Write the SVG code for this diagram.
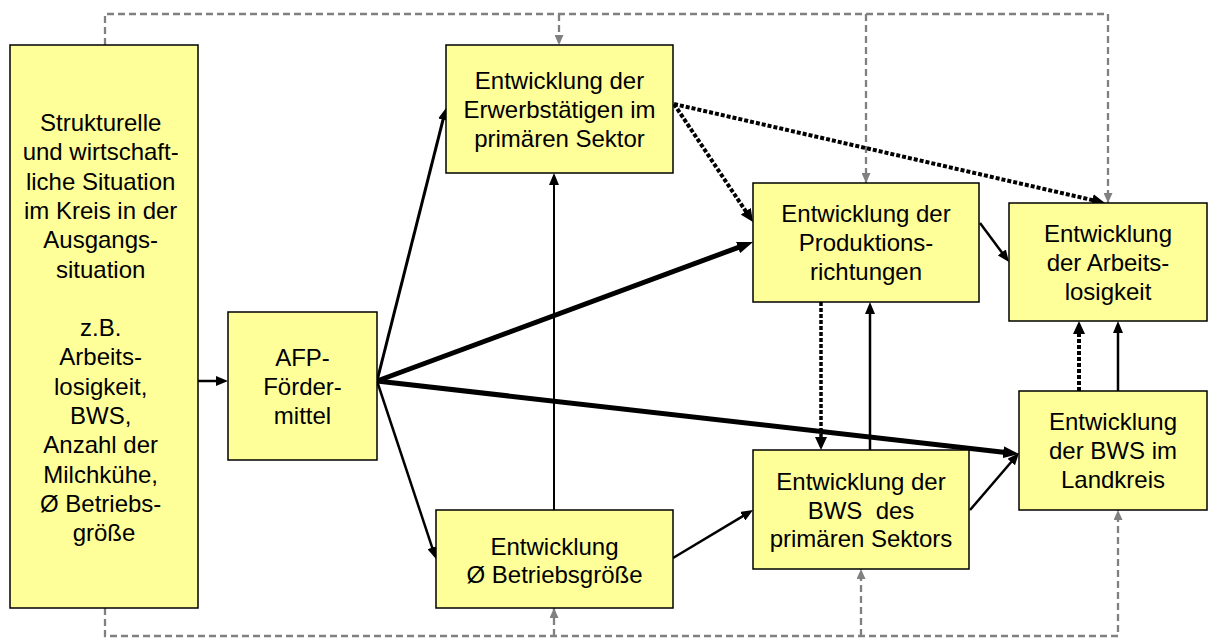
<svg xmlns="http://www.w3.org/2000/svg" width="1209" height="639" viewBox="0 0 1209 639">
<style>
.box{fill:#FFFF99;stroke:#000;stroke-width:1.5}
.t{font-family:"Liberation Sans",Arial,sans-serif;font-size:24px;fill:#000;text-anchor:middle}
.s{fill:none;stroke:#000}
.d{fill:none;stroke:#000;stroke-dasharray:4 2}
.g{fill:none;stroke:#808080;stroke-width:2.3;stroke-dasharray:7 4}
</style>
<defs>
<marker id="ah" markerUnits="userSpaceOnUse" markerWidth="12" markerHeight="10" refX="6" refY="5" orient="auto"><path d="M0,0 L12,5 L0,10 z" fill="#000"/></marker>
<marker id="ahL" markerUnits="userSpaceOnUse" markerWidth="16" markerHeight="12" refX="7" refY="6" orient="auto"><path d="M0,0 L16,6 L0,12 z" fill="#000"/></marker>
<marker id="ahD" markerUnits="userSpaceOnUse" markerWidth="13" markerHeight="12" refX="6" refY="6" orient="auto"><path d="M0,0 L13,6 L0,12 z" fill="#000"/></marker>
<marker id="ahG" markerUnits="userSpaceOnUse" markerWidth="10" markerHeight="9" refX="10" refY="4.5" orient="auto"><path d="M0,0 L10,4.5 L0,9 z" fill="#808080"/></marker>
</defs>
<g id="connectors">
<path class="g" d="M105,45 V14 H1108 V203" marker-end="url(#ahG)"/>
<path class="g" d="M559,14 V45" marker-end="url(#ahG)"/>
<path class="g" d="M866,14 V183" marker-end="url(#ahG)"/>
<path class="g" d="M105,608 V636 H1118 V510" marker-end="url(#ahG)"/>
<path class="g" d="M554,636 V608" marker-end="url(#ahG)"/>
<path class="g" d="M861,636 V569" marker-end="url(#ahG)"/>
<line class="s" x1="198" y1="381" x2="222" y2="381" stroke-width="2.5" marker-end="url(#ah)"/>
<line class="s" x1="377" y1="381" x2="444.5" y2="113.8" stroke-width="3" marker-end="url(#ah)"/>
<line class="s" x1="377" y1="381" x2="744.6" y2="245.1" stroke-width="5" marker-end="url(#ahL)"/>
<line class="s" x1="377" y1="381" x2="1010.1" y2="453" stroke-width="5" marker-end="url(#ahL)"/>
<line class="s" x1="377" y1="381" x2="434.1" y2="553.3" stroke-width="2.5" marker-end="url(#ah)"/>
<line class="s" x1="554" y1="510" x2="554" y2="179" stroke-width="2" marker-end="url(#ah)"/>
<line class="s" x1="673" y1="558" x2="747.9" y2="513.1" stroke-width="2.5" marker-end="url(#ah)"/>
<line class="s" x1="870" y1="450" x2="870" y2="308" stroke-width="2.5" marker-end="url(#ah)"/>
<line class="s" x1="980" y1="223" x2="1005.4" y2="257.2" stroke-width="2.5" marker-end="url(#ah)"/>
<line class="s" x1="970" y1="510" x2="1015.1" y2="457.5" stroke-width="2.5" marker-end="url(#ah)"/>
<line class="s" x1="1118" y1="391" x2="1118" y2="327" stroke-width="2.5" marker-end="url(#ah)"/>
<line class="d" x1="1079" y1="391" x2="1079" y2="328" stroke-width="4" marker-end="url(#ahD)"/>
<line class="d" x1="821" y1="302" x2="821" y2="443" stroke-width="3.5" marker-end="url(#ahD)"/>
<line class="d" x1="674" y1="104" x2="749.1" y2="216.2" stroke-width="4" marker-end="url(#ahD)"/>
<line class="d" x1="674" y1="104" x2="1098.2" y2="201.4" stroke-width="4" marker-end="url(#ahD)"/>
</g>
<g id="node-situation">
<rect class="box" x="10" y="45" width="188" height="563"/>
<text class="t">
<tspan x="104" y="131">Strukturelle</tspan>
<tspan x="104" y="160.3">und wirtschaft-</tspan>
<tspan x="104" y="189.6">liche Situation</tspan>
<tspan x="104" y="218.9">im Kreis in der</tspan>
<tspan x="104" y="248.2">Ausgangs-</tspan>
<tspan x="104" y="277.5">situation</tspan>
<tspan x="104" y="336.1">z.B.</tspan>
<tspan x="104" y="365.4">Arbeits-</tspan>
<tspan x="104" y="394.7">losigkeit,</tspan>
<tspan x="104" y="424">BWS,</tspan>
<tspan x="104" y="453.3">Anzahl der</tspan>
<tspan x="104" y="482.6">Milchkühe,</tspan>
<tspan x="104" y="511.9">Ø Betriebs-</tspan>
<tspan x="104" y="541.2">größe</tspan>
</text>
</g>
<g id="node-afp">
<rect class="box" x="228" y="312" width="149" height="148"/>
<text class="t"><tspan x="302.5" y="366">AFP-</tspan><tspan x="302.5" y="395">Förder-</tspan><tspan x="302.5" y="424">mittel</tspan></text>
</g>
<g id="node-erwerb">
<rect class="box" x="446" y="45" width="227" height="128"/>
<text class="t"><tspan x="559.5" y="89">Entwicklung der</tspan><tspan x="559.5" y="118">Erwerbstätigen im</tspan><tspan x="559.5" y="147">primären Sektor</tspan></text>
</g>
<g id="node-produktion">
<rect class="box" x="753" y="183" width="226" height="119"/>
<text class="t"><tspan x="866" y="222">Entwicklung der</tspan><tspan x="866" y="251">Produktions-</tspan><tspan x="866" y="280">richtungen</tspan></text>
</g>
<g id="node-arbeitslosigkeit">
<rect class="box" x="1009" y="203" width="198" height="118"/>
<text class="t"><tspan x="1108" y="242">Entwicklung</tspan><tspan x="1108" y="271">der Arbeits-</tspan><tspan x="1108" y="300">losigkeit</tspan></text>
</g>
<g id="node-betriebsgroesse">
<rect class="box" x="436" y="510" width="237" height="98"/>
<text class="t"><tspan x="554.5" y="555">Entwicklung</tspan><tspan x="554.5" y="583">Ø Betriebsgröße</tspan></text>
</g>
<g id="node-bws-primaer">
<rect class="box" x="753" y="450" width="216" height="119"/>
<text class="t"><tspan x="861" y="490">Entwicklung der</tspan><tspan x="861" y="519" xml:space="preserve">BWS  des</tspan><tspan x="861" y="547">primären Sektors</tspan></text>
</g>
<g id="node-bws-landkreis">
<rect class="box" x="1019" y="391" width="188" height="119"/>
<text class="t"><tspan x="1113" y="430">Entwicklung</tspan><tspan x="1113" y="459">der BWS im</tspan><tspan x="1113" y="488">Landkreis</tspan></text>
</g>
</svg>
